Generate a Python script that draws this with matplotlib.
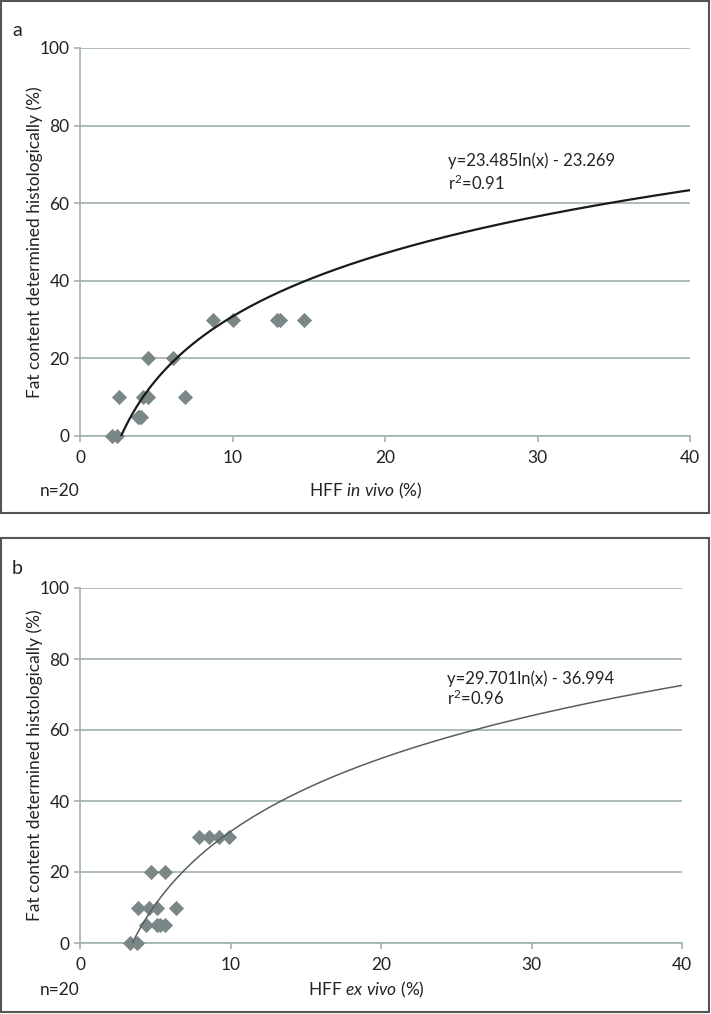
import numpy as np
import matplotlib
matplotlib.use("Agg")
from matplotlib import pyplot as plt
from matplotlib.patches import Rectangle

plt.rcParams['font.family'] = ['Lato', 'DejaVu Sans']
plt.rcParams['mathtext.fontset'] = 'custom'
plt.rcParams['mathtext.rm'] = 'Lato'
plt.rcParams['mathtext.it'] = 'Lato:italic'

# panel a: HFF in vivo
hff_in_vivo = [2.1, 2.45, 2.56, 3.8, 3.9, 4.0, 4.15, 4.46, 6.86, 4.44, 6.12,
               8.7, 10.05, 12.9, 13.1, 14.7]
fat_a = [0, 0, 10, 5, 5, 5, 10, 10, 10, 20, 20, 30, 30, 30, 30, 30]
coef_a = (23.485, -23.269)

# panel b: HFF ex vivo
hff_ex_vivo = [3.33, 3.81, 4.39, 5.09, 5.32, 5.65, 3.83, 4.58, 5.14, 6.40,
               4.74, 5.67, 7.93, 8.57, 9.22, 9.92]
fat_b = [0, 0, 5, 5, 5, 5, 10, 10, 10, 10, 20, 20, 30, 30, 30, 30]
coef_b = (29.701, -36.994)

W, H = 711, 1014
grid_col = '#9fb0b0'
marker_col = '#7b8787'


def px(x0, y0, x1, y1):
    # pixel box -> figure fraction [left, bottom, width, height]
    return [x0 / W, 1 - y1 / H, (x1 - x0) / W, (y1 - y0) / H]


def panel(fig, box, frame, letter, xs, ys, coef, eq, r2, mode, line_col, lw, eq_xy):
    ax = fig.add_axes(px(*box))
    ax.set_xlim(0, 40)
    ax.set_ylim(0, 100)
    ax.set_xticks([0, 10, 20, 30, 40])
    ax.set_yticks([0, 20, 40, 60, 80, 100])
    for s in ['top', 'right']:
        ax.spines[s].set_visible(False)
    for s in ['left', 'bottom']:
        ax.spines[s].set_color(grid_col)
        ax.spines[s].set_linewidth(1.2)
    ax.tick_params(colors=grid_col, labelcolor='#222222', labelsize=12.5,
                   length=4, width=1.2)
    ax.tick_params(axis='x', pad=6)
    ax.grid(axis='y', color=grid_col, linewidth=1.2)
    ax.set_axisbelow(True)
    ax.scatter(xs, ys, marker='D', s=60, color=marker_col, zorder=3, clip_on=False,
               linewidths=0)
    a, b = coef
    x0 = np.exp(-b / a)
    xx = np.linspace(x0, 40, 300)
    ax.plot(xx, a * np.log(xx) + b, color=line_col, linewidth=lw, zorder=4)
    ax.text(eq_xy[0], eq_xy[1], eq, fontsize=12, color='#222222')
    ax.text(eq_xy[0], eq_xy[1] - 6, r2, fontsize=12, color='#222222')
    ax.set_ylabel('Fat content determined histologically (%)', fontsize=12.5,
                  color='#222222')
    width_px = box[2] - box[0]
    ax.yaxis.set_label_coords((43 - box[0]) / width_px, 0.5)

    fx0, fy0, fx1, fy1 = frame
    fig.patches.append(Rectangle((fx0 / W, 1 - fy1 / H), (fx1 - fx0) / W, (fy1 - fy0) / H,
                                 transform=fig.transFigure, fill=False,
                                 edgecolor='#555555', linewidth=1.5))
    fig.text(12 / W, 1 - (fy0 + 30) / H, letter, fontsize=14, va='center', color='#222222')
    fig.text(40 / W, 1 - (fy1 - 22) / H, 'n=20', fontsize=12.5, va='center', color='#222222')
    fig.text(366 / W, 1 - (fy1 - 22) / H, 'HFF $\\mathit{' + mode + '}$ (%)', fontsize=12.5,
             va='center', ha='center', color='#222222')
    return ax


fig = plt.figure(figsize=(W / 100, H / 100), dpi=100)
panel(fig, (80, 48, 690, 436), (1, 1, 709, 513), 'a', hff_in_vivo, fat_a, coef_a,
      'y=23.485ln(x) - 23.269', 'r$^2$=0.91', 'in\\ vivo', '#1a1a1a', 1.6, (24.1, 69.5))
panel(fig, (80, 588, 682, 943), (1, 538, 709, 1012), 'b', hff_ex_vivo, fat_b, coef_b,
      'y=29.701ln(x) - 36.994', 'r$^2$=0.96', 'ex\\ vivo', '#556060', 1.1, (24.4, 73))
fig.savefig('out.png', dpi=100)
